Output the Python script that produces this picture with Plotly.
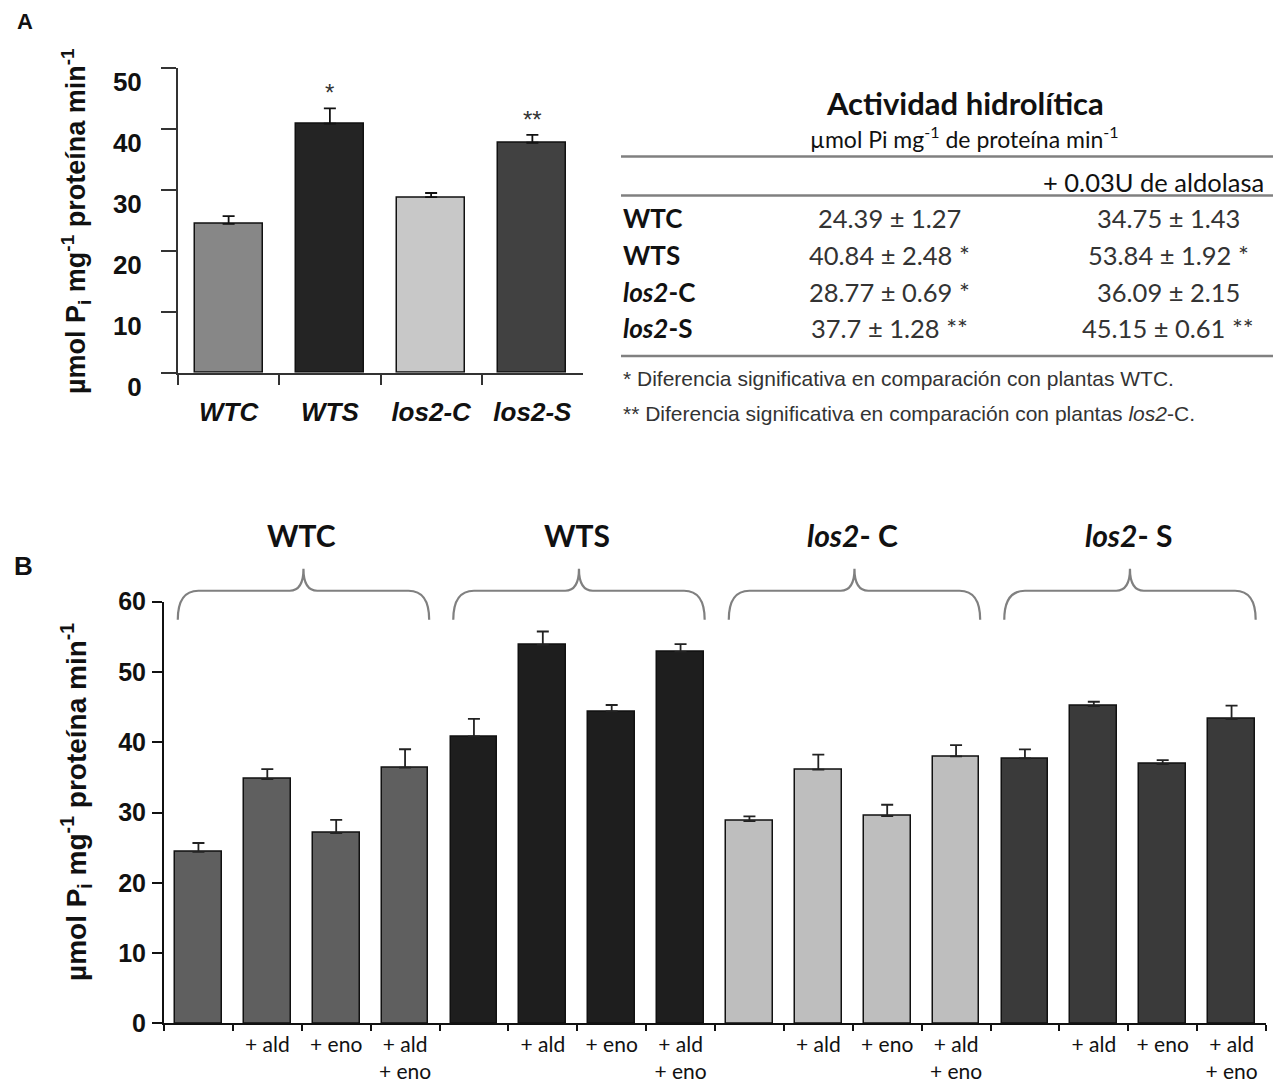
import plotly.graph_objects as go

# The page body adds an 8 px margin, so the figure is drawn 8 px smaller and
# all layout positions below are given in window pixels and converted.
OX, OY = 8, 8
W, H = 1281 - OX, 1083 - OY

# ---------------- Panel A / table data ----------------
genotypes = ["WTC", "WTS", "los2-C", "los2-S"]
table_row_labels = ["<b>WTC</b>", "<b>WTS</b>", "<b><i>los2</i>-C</b>", "<b><i>los2</i>-S</b>"]
activity_mean = [24.39, 40.84, 28.77, 37.7]
activity_sd = [1.27, 2.48, 0.69, 1.28]
activity_sig = ["", "*", "*", "**"]
aldolase_mean = [34.75, 53.84, 36.09, 45.15]
aldolase_sd = [1.43, 1.92, 2.15, 0.61]
aldolase_sig = ["", "*", "", "**"]
chart_a_sig = ["", "*", "", "**"]
colors_a = ["#878787", "#242424", "#c8c8c8", "#414141"]
ticks_a = [0, 10, 20, 30, 40, 50]

# ---------------- Panel B data ----------------
group_titles = ["<b>WTC</b>", "<b>WTS</b>", "<b><i>los2</i>- C</b>", "<b><i>los2</i>- S</b>"]
treatments = ["", "+ ald", "+ eno", "+ ald<br>+ eno"]
b_values = {
    "WTC": [24.39, 34.75, 27.06, 36.4],
    "WTS": [40.84, 53.84, 44.4, 52.85],
    "los2-C": [28.77, 36.09, 29.5, 38.0],
    "los2-S": [37.7, 45.15, 36.9, 43.3],
}
b_errors = {
    "WTC": [1.27, 1.43, 1.9, 2.6],
    "WTS": [2.48, 1.92, 0.9, 1.1],
    "los2-C": [0.69, 2.15, 1.6, 1.6],
    "los2-S": [1.28, 0.61, 0.55, 1.9],
}
colors_b = ["#5f5f5f", "#1e1e1e", "#bebebe", "#3a3a3a"]
ticks_b = [0, 10, 20, 30, 40, 50, 60]

ARIAL = "Liberation Sans, Arial, sans-serif"
CALIBRI = "Lato, Carlito, Calibri, sans-serif"


def px(x):
    return (x - OX) / W


def py(y):
    return 1 - (y - OY) / H


fig = go.Figure()

# Panel A bars
fig.add_trace(go.Bar(
    x=genotypes, y=activity_mean,
    marker=dict(color=colors_a, line=dict(color="#111111", width=1.5)),
    width=0.67,
    error_y=dict(type="data", array=activity_sd, arrayminus=[0] * len(activity_sd),
                 symmetric=False, color="#111111", thickness=1.8, width=6),
    xaxis="x", yaxis="y", showlegend=False,
))

# Panel B bars
n_t = len(treatments)
b_tickvals, b_ticktext = [], []
for gi, g in enumerate(genotypes):
    xs = [gi * n_t + k for k in range(n_t)]
    b_tickvals += xs
    b_ticktext += treatments
    fig.add_trace(go.Bar(
        x=xs, y=b_values[g],
        marker=dict(color=colors_b[gi], line=dict(color="#111111", width=1.5)),
        width=0.68,
        error_y=dict(type="data", array=b_errors[g], arrayminus=[0] * n_t,
                     symmetric=False, color="#222222", thickness=1.8, width=6),
        xaxis="x2", yaxis="y2", showlegend=False,
    ))

n_b = len(genotypes) * n_t

fig.update_layout(
    width=W, height=H,
    margin=dict(l=0, r=0, t=0, b=0, autoexpand=False),
    paper_bgcolor="white", plot_bgcolor="white",
    bargap=0,
    xaxis=dict(
        domain=[px(178), px(583)], anchor="y", automargin=False,
        type="category", tickson="boundaries",
        ticks="outside", ticklen=10, tickwidth=1.5, tickcolor="#333333",
        showline=True, linecolor="#333333", linewidth=2,
        showgrid=False, zeroline=False,
        tickfont=dict(family=ARIAL, size=26, color="#111111", weight="bold", style="italic"),
        ticklabelstandoff=15,
    ),
    yaxis=dict(
        domain=[py(372.7), py(67.7)], anchor="x", automargin=False,
        range=[0, 50], tickvals=ticks_a,
        ticks="outside", ticklen=15, tickwidth=1.5, tickcolor="#333333",
        showline=True, linecolor="#333333", linewidth=2,
        showgrid=False, zeroline=False,
        tickfont=dict(family=ARIAL, size=26, color="#111111", weight="bold"),
        ticklabelstandoff=14, ticklabelshift=14,
    ),
    xaxis2=dict(
        domain=[px(164), px(1266)], anchor="y2", automargin=False,
        range=[-0.5, n_b - 0.5],
        tickmode="array", tickvals=b_tickvals, ticktext=b_ticktext,
        ticks="", showline=True, linecolor="#111111", linewidth=2,
        showgrid=False, zeroline=False,
        minor=dict(tickmode="array", tickvals=[i - 0.5 for i in range(n_b + 1)],
                   ticks="outside", ticklen=6, tickwidth=1.5, tickcolor="#111111",
                   showgrid=False),
        tickfont=dict(family=CALIBRI, size=21, color="#111111"),
        ticklabelstandoff=1,
    ),
    yaxis2=dict(
        domain=[py(1023.3), py(601.7)], anchor="x2", automargin=False,
        range=[0, 60], tickvals=ticks_b,
        ticks="outside", ticklen=10, tickwidth=1.5, tickcolor="#111111",
        showline=True, linecolor="#111111", linewidth=2,
        showgrid=False, zeroline=False,
        tickfont=dict(family=ARIAL, size=25, color="#111111", weight="bold"),
        ticklabelstandoff=1,
    ),
)


def txt(text, x, y, size, family=CALIBRI, color="#111111", xanchor="center", yanchor="middle",
        xref="paper", yref="paper", **kw):
    return dict(text=text, x=x, y=y, xref=xref, yref=yref, xanchor=xanchor, yanchor=yanchor,
                showarrow=False, font=dict(family=family, size=size, color=color), **kw)


ann = []
# panel letters
ann.append(txt("<b>A</b>", px(25), py(22), 22, family=ARIAL))
ann.append(txt("<b>B</b>", px(23), py(566), 26, family=ARIAL))
ytitle = "<b>µmol P<sub>i</sub> mg<sup>-1</sup> proteína min<sup>-1</sup></b>"
ann.append(txt(ytitle, px(76), py(222), 27, family=ARIAL, textangle=-90))
ann.append(txt(ytitle, px(76), py(802), 28, family=ARIAL, textangle=-90))

# asterisks on panel A
for g, m, s, sig in zip(genotypes, activity_mean, activity_sd, chart_a_sig):
    if sig:
        ann.append(txt(sig, g, m + s, 24, family=ARIAL, color="#333333", yanchor="bottom",
                       xref="x", yref="y", yshift=0))

# group titles panel B
for gi, t in enumerate(group_titles):
    ann.append(txt(t, gi * n_t + (n_t - 1) / 2, py(535), 30, xref="x2"))

# table
ann.append(txt("<b>Actividad hidrolítica</b>", px(965), py(103), 31))
ann.append(txt("µmol Pi mg<sup>-1</sup> de proteína min<sup>-1</sup>", px(964), py(137), 23))
ann.append(txt("+ 0.03U de aldolasa", px(1153), py(182), 25.5))
row_y = [218, 255, 292, 328]
for lab, m1, s1, g1, m2, s2, g2, yy in zip(table_row_labels, activity_mean, activity_sd, activity_sig,
                                          aldolase_mean, aldolase_sd, aldolase_sig, row_y):
    ann.append(txt(lab, px(621), py(yy), 26, xanchor="left"))
    ann.append(txt(f"{m1:g} ± {s1:g}" + (f" {g1}" if g1 else ""), px(889), py(yy), 25.5, color="#333333"))
    ann.append(txt(f"{m2:g} ± {s2:g}" + (f" {g2}" if g2 else ""), px(1168), py(yy), 25.5, color="#333333"))
ann.append(txt("* Diferencia significativa en comparación con plantas WTC.", px(621), py(378), 21,
               family=ARIAL, color="#333333", xanchor="left"))
ann.append(txt("** Diferencia significativa en comparación con plantas <i>los2</i>-C.", px(621), py(413), 21,
               family=ARIAL, color="#333333", xanchor="left"))

shapes = []
for yy in [156.5, 195.5, 356]:
    shapes.append(dict(type="line", xref="paper", yref="paper", x0=px(621), x1=1, y0=py(yy), y1=py(yy),
                       line=dict(color="#808080", width=2.5)))

# braces over panel B groups (x in data units, y in domain units of y2)
y_end, y_bar, y_tip = 0.957, 1.026, 1.078
for gi in range(len(genotypes)):
    a = gi * n_t - 0.5 + 0.2
    b = gi * n_t + n_t - 0.5 - 0.15
    m = (a + b) / 2
    r, r2 = 0.3, 0.2
    path = (f"M {a},{y_end} Q {a},{y_bar} {a + r},{y_bar} L {m - r2},{y_bar} "
            f"Q {m},{y_bar} {m},{y_tip} Q {m},{y_bar} {m + r2},{y_bar} "
            f"L {b - r},{y_bar} Q {b},{y_bar} {b},{y_end}")
    shapes.append(dict(type="path", path=path, xref="x2", yref="y2 domain",
                       line=dict(color="#808080", width=2.2)))

fig.update_layout(annotations=ann, shapes=shapes)
fig.write_html("out.html")
